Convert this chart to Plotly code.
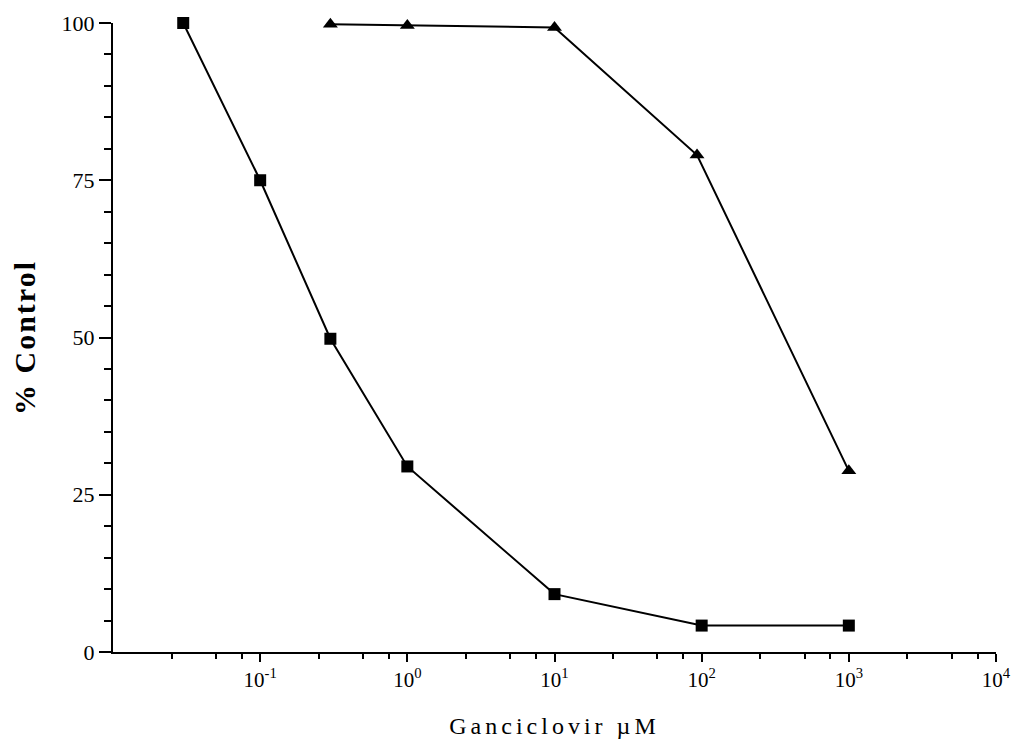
import plotly.graph_objects as go

# Data
sq_x = [0.03, 0.1, 0.3, 1, 10, 100, 1000]
sq_y = [100, 75, 49.8, 29.5, 9.2, 4.2, 4.2]
tri_x = [0.3, 1, 10, 93, 1000]
tri_y = [99.8, 99.6, 99.3, 79.0, 28.8]

x_tickvals = [0.1, 1, 10, 100, 1000, 10000]
x_ticktext = ["10<sup>-1</sup>", "10<sup>0</sup>", "10<sup>1</sup>",
              "10<sup>2</sup>", "10<sup>3</sup>", "10<sup>4</sup>"]
x_minor = [m * 10 ** e for e in range(-2, 4) for m in (2.5, 5, 7.5)]
y_tickvals = [0, 25, 50, 75, 100]

serif = "Liberation Serif"

fig = go.Figure()
fig.add_trace(go.Scatter(
    x=sq_x, y=sq_y, mode="lines+markers",
    line=dict(color="black", width=2),
    marker=dict(symbol="square", size=12, color="black"),
    showlegend=False, cliponaxis=False,
))
fig.add_trace(go.Scatter(
    x=tri_x, y=tri_y, mode="lines+markers",
    line=dict(color="black", width=2),
    marker=dict(symbol="triangle-up", size=13, color="black"),
    showlegend=False, cliponaxis=False,
))

fig.update_layout(
    width=1017, height=753,
    margin=dict(l=113, r=21, t=23, b=101),
    plot_bgcolor="white", paper_bgcolor="white",
    font=dict(family=serif, color="black", size=21),
    xaxis=dict(
        type="log", range=[-2, 4],
        tickmode="array", tickvals=x_tickvals, ticktext=x_ticktext,
        ticks="outside", ticklen=8, tickwidth=2, tickcolor="black",
        showline=True, linecolor="black", linewidth=2,
        showgrid=False, zeroline=False, automargin=False,
        tickfont=dict(family=serif, size=21),
        minor=dict(tickmode="array", tickvals=x_minor, ticks="outside",
                   ticklen=5, tickwidth=1.5, tickcolor="black", showgrid=False),
        title=dict(text='<span style="letter-spacing:4px">Ganciclovir µM</span>',
                   font=dict(family=serif, size=24), standoff=26),
    ),
    yaxis=dict(
        range=[0, 100],
        tickmode="array", tickvals=y_tickvals,
        ticks="outside", ticklen=12, tickwidth=2, tickcolor="black",
        showline=True, linecolor="black", linewidth=2,
        showgrid=False, zeroline=False, automargin=False,
        tickfont=dict(family=serif, size=22),
        minor=dict(tickmode="linear", tick0=0, dtick=5, ticks="outside",
                   ticklen=7, tickwidth=1.5, tickcolor="black", showgrid=False),
        title=dict(text='<span style="letter-spacing:2px"><b>% Control</b></span>',
                   font=dict(family=serif, size=30), standoff=17),
    ),
)

fig.write_html("out.html", config={"displayModeBar": False},
               post_script="document.body.style.margin='0';")
